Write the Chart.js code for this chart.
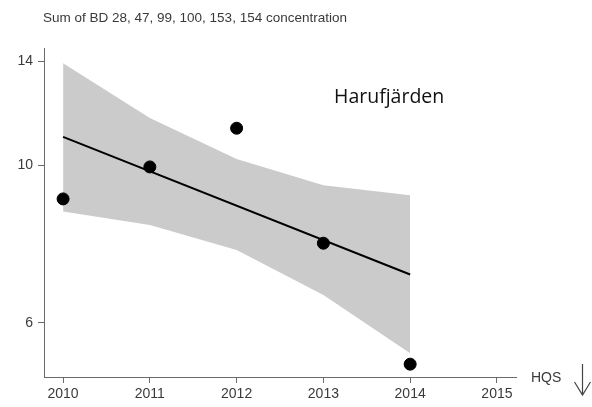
<!DOCTYPE html>
<html>
<head>
<meta charset="utf-8">
<script src="https://cdn.jsdelivr.net/npm/chart.js@4/dist/chart.umd.min.js"></script>
<style>
  html, body { margin: 0; padding: 0; background: #ffffff; }
  #wrap { width: 592px; height: 407px; position: relative; }
</style>
</head>
<body>
<div id="wrap"><canvas id="c"></canvas></div>
<script>
// Yearly values and fitted trend with its confidence band
const years = [2010, 2011, 2012, 2013, 2014];
const concentration = [8.97, 9.95, 11.28, 7.77, 5.25];
const bandUpper = [13.92, 11.66, 10.21, 9.38, 9.08];
const bandLower = [8.61, 8.24, 7.60, 6.57, 5.44];
const trendYears = [2010, 2014];
const trendValues = [10.97, 7.02];

// Axis ticks
const xTicks = [2010, 2011, 2012, 2013, 2014, 2015];
const yTicks = [6, 10, 14];

// Texts
const titleText = 'Sum of BD 28, 47, 99, 100, 153, 154 concentration';
const siteName = 'Harufjärden';
const hqsLabel = 'HQS';

const toXY = (xs, ys) => xs.map((x, i) => ({ x: x, y: ys[i] }));

const axisColor = '#6a6a6a';
const textColor = '#3a3a3a';
const tickFont = { family: '"Liberation Sans", Arial, sans-serif', size: 14 };

// Title, site name and the HQS arrow drawn on top of the chart
const annotations = {
  id: 'annotations',
  afterDraw(chart) {
    const ctx = chart.ctx;
    ctx.save();
    ctx.fillStyle = textColor;
    ctx.textBaseline = 'middle';
    ctx.textAlign = 'left';
    ctx.font = '13.5px "Liberation Sans", Arial, sans-serif';
    ctx.fillText(titleText, 43, 18);

    ctx.fillStyle = '#111111';
    ctx.font = '19.5px "Open Sans", "Noto Sans", sans-serif';
    ctx.textBaseline = 'alphabetic';
    ctx.fillText(siteName, 334, 103);

    ctx.fillStyle = textColor;
    ctx.textBaseline = 'middle';
    ctx.font = '14px "Liberation Sans", Arial, sans-serif';
    ctx.fillText(hqsLabel, 531, 378);

    ctx.strokeStyle = '#444444';
    ctx.lineWidth = 1.2;
    ctx.beginPath();
    ctx.moveTo(582.5, 364);
    ctx.lineTo(582.5, 395);
    ctx.moveTo(574.5, 382);
    ctx.lineTo(582.5, 395);
    ctx.lineTo(590.5, 382);
    ctx.stroke();
    ctx.restore();
  }
};

new Chart(document.getElementById('c'), {
  type: 'scatter',
  data: {
    datasets: [
      {
        label: 'upper',
        type: 'line',
        data: toXY(years, bandUpper),
        borderWidth: 0,
        borderColor: 'rgba(0,0,0,0)',
        pointRadius: 0,
        backgroundColor: '#cbcbcb',
        fill: '+1',
        tension: 0,
        order: 3
      },
      {
        label: 'lower',
        type: 'line',
        data: toXY(years, bandLower),
        borderWidth: 0,
        borderColor: 'rgba(0,0,0,0)',
        pointRadius: 0,
        fill: false,
        tension: 0,
        order: 3
      },
      {
        label: 'trend',
        type: 'line',
        data: toXY(trendYears, trendValues),
        borderColor: '#000000',
        borderWidth: 2,
        pointRadius: 0,
        fill: false,
        tension: 0,
        order: 2
      },
      {
        label: 'concentration',
        data: toXY(years, concentration),
        backgroundColor: '#000000',
        borderColor: '#000000',
        pointRadius: 6,
        pointHoverRadius: 6,
        order: 1
      }
    ]
  },
  options: {
    responsive: true,
    maintainAspectRatio: false,
    animation: false,
    devicePixelRatio: 1,
    layout: { padding: { top: 48, right: 76, left: 0, bottom: 0 } },
    plugins: {
      legend: { display: false },
      tooltip: { enabled: false },
      title: { display: false }
    },
    scales: {
      x: {
        type: 'linear',
        min: 2009.78,
        max: 2015.22,
        afterBuildTicks(scale) {
          scale.ticks = xTicks.map(v => ({ value: v }));
        },
        afterFit(scale) { scale.height = 30; },
        ticks: {
          color: textColor,
          font: tickFont,
          padding: 3,
          maxRotation: 0,
          callback: v => String(v)
        },
        grid: {
          drawOnChartArea: false,
          drawTicks: true,
          tickLength: 6,
          color: axisColor
        },
        border: { display: true, color: axisColor, width: 1 }
      },
      y: {
        type: 'logarithmic',
        min: 5.036,
        max: 14.63,
        afterBuildTicks(scale) {
          scale.ticks = yTicks.map(v => ({ value: v }));
        },
        afterFit(scale) { scale.width = 44; },
        ticks: {
          color: textColor,
          font: tickFont,
          padding: 5,
          callback: v => String(v)
        },
        grid: {
          drawOnChartArea: false,
          drawTicks: true,
          tickLength: 6,
          color: axisColor
        },
        border: { display: true, color: axisColor, width: 1 }
      }
    }
  },
  plugins: [annotations]
});
</script>
</body>
</html>
